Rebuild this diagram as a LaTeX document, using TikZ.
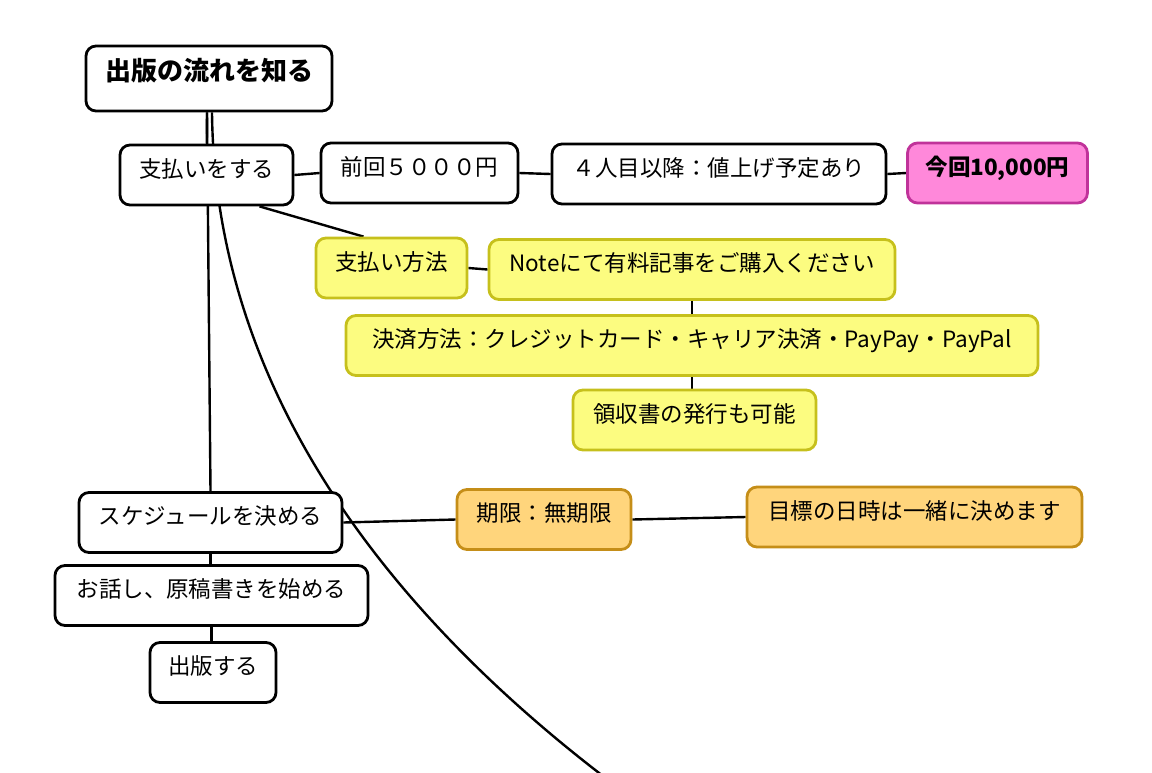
\documentclass[tikz,border=0pt]{standalone}
\usepackage{fontspec}
\setmainfont{Noto Sans CJK JP}
\usetikzlibrary{backgrounds}
\definecolor{pinkfill}{HTML}{FF88DA}
\definecolor{pinkline}{HTML}{C0339A}
\definecolor{yellowfill}{HTML}{FCFC80}
\definecolor{yellowline}{HTML}{C6C01C}
\definecolor{orangefill}{HTML}{FFD57C}
\definecolor{orangeline}{HTML}{C58E18}
\begin{document}
\begin{tikzpicture}[x=1pt,y=-1pt]
	\tikzstyle{topic}=[rectangle,draw,line width=2.8pt,fill=white,rounded corners=10pt,
		inner xsep=18pt,inner ysep=0pt,minimum height=60pt,text height=16pt,text depth=12pt,
		font=\fontsize{22.5pt}{26pt}\selectfont]
	\tikzstyle{pricenote}=[topic,draw=pinkline,fill=pinkfill,font=\fontsize{22.5pt}{26pt}\selectfont\bfseries]
	\tikzstyle{paynote}=[topic,draw=yellowline,fill=yellowfill]
	\tikzstyle{datenote}=[topic,draw=orangeline,fill=orangefill]
	\tikzstyle{link}=[line width=2.4pt]
	\useasboundingbox (0,0) rectangle (1152,772);
	\node[topic,minimum width=246pt,minimum height=65pt,text height=18pt,text depth=14pt,
		font=\fontsize{26pt}{30pt}\selectfont\bfseries] (flow) at (209,78.5) {出版の流れを知る};
	\node[topic,minimum width=173pt] (pay) at (206.5,175) {支払いをする};
	\node[topic,minimum width=197pt] (before) at (419.5,173) {前回５０００円};
	\node[topic,minimum width=334pt] (fourth) at (719,174) {４人目以降：値上げ予定あり};
	\node[pricenote,minimum width=175pt] (now) at (997.5,173) {今回10,000円};
	\node[paynote,minimum width=151pt] (method) at (391.5,268) {支払い方法};
	\node[paynote,minimum width=406pt] (note) at (692,269.5) {Noteにて有料記事をご購入ください};
	\node[paynote,minimum width=692pt] (settle) at (692,345.5) {決済方法：クレジットカード・キャリア決済・PayPay・PayPal};
	\node[paynote,minimum width=243pt] (receipt) at (694.5,420) {領収書の発行も可能};
	\node[topic,minimum width=263pt] (schedule) at (210.5,522.5) {スケジュールを決める};
	\node[datenote,minimum width=174pt] (limit) at (544,519.5) {期限：無期限};
	\node[datenote,minimum width=335pt] (goal) at (914.5,517) {目標の日時は一緒に決めます};
	\node[topic,minimum width=313pt] (talk) at (211.5,595.5) {お話し、原稿書きを始める};
	\node[topic,minimum width=126pt] (publish) at (213,672.5) {出版する};
	\coordinate (offpage) at (603,776);
	\begin{scope}[on background layer]
		\draw[link] ([xshift=-2pt]flow.south) -- (pay);
		\draw[link] ([xshift=-2pt]flow.south) -- (schedule.north);
		\draw[link] ([xshift=3pt]flow.south) .. controls (215,400) and (400,620) .. (offpage);
		\draw[link] (pay.east) -- (before.west);
		\draw[link] (before.east) -- (fourth.west);
		\draw[link] (fourth.east) -- (now.west);
		\draw[link] ([xshift=53pt]pay.south) -- ([xshift=-28pt]method.north);
		\draw[link] (method.east) -- (note.west);
		\draw[link] (note.south) -- (note.south |- settle.north);
		\draw[link] (settle.south) -- (settle.south |- receipt.north);
		\draw[link] (schedule.east) -- (limit.west);
		\draw[link] (limit.east) -- (goal.west);
		\draw[link] (schedule.south) -- (schedule.south |- talk.north);
		\draw[link] (talk.south) -- (talk.south |- publish.north);
	\end{scope}
\end{tikzpicture}
\end{document}
